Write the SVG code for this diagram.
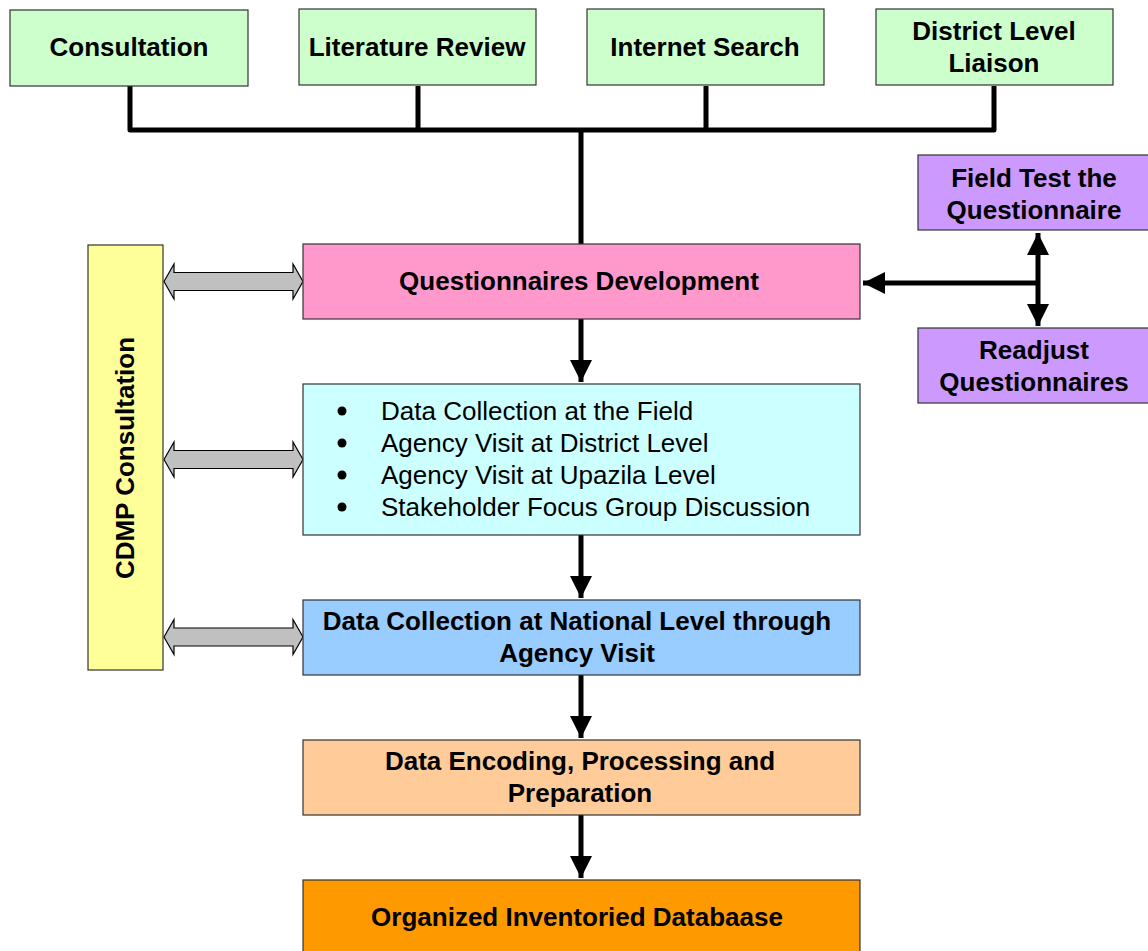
<svg xmlns="http://www.w3.org/2000/svg" xmlns:xlink="http://www.w3.org/1999/xlink" width="1148" height="951" viewBox="0 0 1148 951">
  <style>
    .box { stroke: #333333; stroke-width: 1.2; }
    .src { fill: #ccffcc; }
    .test { fill: #cc99ff; }
    .lbl { font-family: "Liberation Sans", Arial, sans-serif; font-size: 26px; font-weight: bold; fill: #000; text-anchor: middle; }
    .item { font-family: "Liberation Sans", Arial, sans-serif; font-size: 26px; fill: #000; }
    .wire { fill: none; stroke: #000; stroke-width: 5; }
    .link { fill: #c0c0c0; stroke: #000; stroke-width: 1.2; }
  </style>
  <defs>
    <marker id="head" markerUnits="userSpaceOnUse" markerWidth="24" markerHeight="24" refX="22" refY="11" orient="auto-start-reverse" viewBox="0 0 24 22">
      <path d="M0,0 L22,11 L0,22 Z" fill="#000"/>
    </marker>
    <path id="dbl" d="M0,0 L10,-17.5 L10,-9 L129,-9 L129,-17.5 L139,0 L129,17.5 L129,9 L10,9 L10,17.5 Z"/>
  </defs>

  <rect width="1148" height="951" fill="#ffffff"/>

  <!-- connectors -->
  <g id="connectors">
    <!-- source bus into questionnaire development -->
    <path class="wire" d="M130,86 V130 H994 V86 M418,86 V130 M706,86 V130 M581,130 V244" stroke-linejoin="round"/>
    <!-- main flow -->
    <line class="wire" x1="581" y1="319" x2="581" y2="382" marker-end="url(#head)"/>
    <line class="wire" x1="581" y1="535" x2="581" y2="598" marker-end="url(#head)"/>
    <line class="wire" x1="581" y1="675" x2="581" y2="738" marker-end="url(#head)"/>
    <line class="wire" x1="581" y1="815" x2="581" y2="878" marker-end="url(#head)"/>
    <!-- field test loop -->
    <line class="wire" x1="1038" y1="283" x2="863" y2="283" marker-end="url(#head)"/>
    <line class="wire" x1="1038" y1="233" x2="1038" y2="326" marker-start="url(#head)" marker-end="url(#head)"/>
    <!-- CDMP consultation links -->
    <use class="link" xlink:href="#dbl" transform="translate(164,281.5)"/>
    <use class="link" xlink:href="#dbl" transform="translate(164,459.5)"/>
    <use class="link" xlink:href="#dbl" transform="translate(164,637)"/>
  </g>

  <!-- information sources -->
  <g id="consultation">
    <rect class="box src" x="10" y="10" width="238" height="76"/>
    <text class="lbl" x="129" y="56">Consultation</text>
  </g>
  <g id="literature-review">
    <rect class="box src" x="299" y="9" width="237" height="76"/>
    <text class="lbl" x="417" y="56">Literature Review</text>
  </g>
  <g id="internet-search">
    <rect class="box src" x="587" y="9" width="237" height="76"/>
    <text class="lbl" x="705" y="56">Internet Search</text>
  </g>
  <g id="district-liaison">
    <rect class="box src" x="876" y="9" width="237" height="76"/>
    <text class="lbl" x="994" y="40">District Level</text>
    <text class="lbl" x="994" y="72">Liaison</text>
  </g>

  <!-- field testing -->
  <g id="field-test">
    <rect class="box test" x="918" y="155" width="232" height="75"/>
    <text class="lbl" x="1034" y="187">Field Test the</text>
    <text class="lbl" x="1034" y="219">Questionnaire</text>
  </g>
  <g id="readjust">
    <rect class="box test" x="918" y="328" width="232" height="75"/>
    <text class="lbl" x="1034" y="359">Readjust</text>
    <text class="lbl" x="1034" y="391">Questionnaires</text>
  </g>

  <!-- CDMP consultation -->
  <g id="cdmp">
    <rect class="box" x="88" y="245" width="75" height="425" fill="#ffff99"/>
    <text class="lbl" transform="translate(134,458) rotate(-90)">CDMP Consultation</text>
  </g>

  <!-- main process -->
  <g id="questionnaire-dev">
    <rect class="box" x="303" y="244" width="557" height="75" fill="#ff99cc"/>
    <text class="lbl" x="579" y="290">Questionnaires Development</text>
  </g>
  <g id="field-collection">
    <rect class="box" x="303" y="384" width="557" height="151" fill="#ccffff"/>
    <g fill="#000">
      <circle cx="342" cy="411" r="4.5"/>
      <circle cx="342" cy="443" r="4.5"/>
      <circle cx="342" cy="475" r="4.5"/>
      <circle cx="342" cy="507" r="4.5"/>
    </g>
    <text class="item" x="381" y="420">Data Collection at the Field</text>
    <text class="item" x="381" y="452">Agency Visit at District Level</text>
    <text class="item" x="381" y="484">Agency Visit at Upazila Level</text>
    <text class="item" x="381" y="516">Stakeholder Focus Group Discussion</text>
  </g>
  <g id="national-collection">
    <rect class="box" x="303" y="600" width="557" height="75" fill="#99ccff"/>
    <text class="lbl" x="577" y="630">Data Collection at National Level through</text>
    <text class="lbl" x="577" y="662">Agency Visit</text>
  </g>
  <g id="encoding">
    <rect class="box" x="303" y="740" width="557" height="75" fill="#ffcc99"/>
    <text class="lbl" x="580" y="770">Data Encoding, Processing and</text>
    <text class="lbl" x="580" y="802">Preparation</text>
  </g>
  <g id="database">
    <rect class="box" x="303" y="880" width="557" height="75" fill="#ff9900"/>
    <text class="lbl" x="577" y="926">Organized Inventoried Databaase</text>
  </g>
</svg>
